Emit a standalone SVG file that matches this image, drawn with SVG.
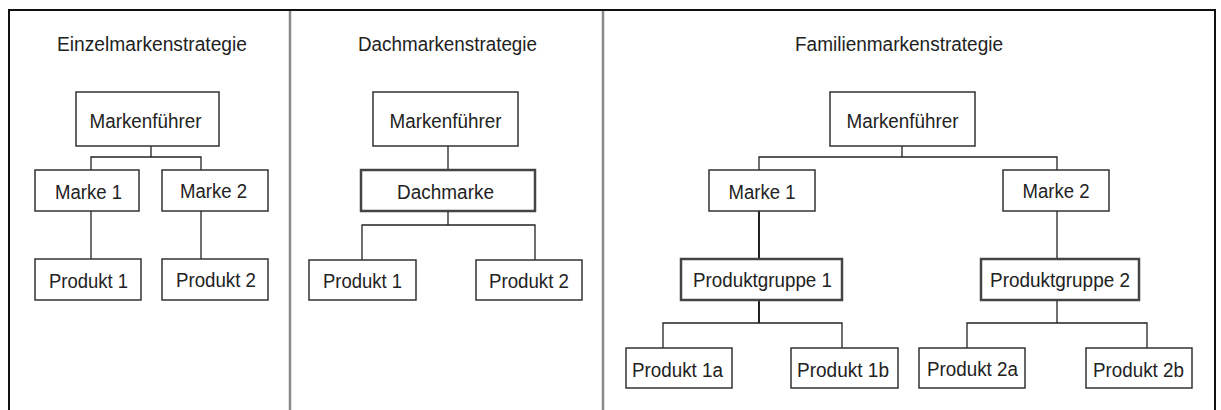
<svg xmlns="http://www.w3.org/2000/svg" width="1221" height="410" viewBox="0 0 1221 410">
<style>
.frame{fill:none;stroke:#111;stroke-width:2}
.div{stroke:#8a8a8a;stroke-width:2.5}
.box rect{fill:#fff;stroke:#333;stroke-width:1.5}
.box.strong rect{stroke:#444;stroke-width:2.5}
.box text,.title{font-family:"Liberation Sans",Arial,sans-serif;fill:#222;text-anchor:middle;font-size:20px}
#connectors path{fill:none;stroke:#222;stroke-width:1.3}
#connectors path.thick{stroke-width:2}
</style>
<rect width="1221" height="410" fill="#fff"/>
<g id="frame">
<path class="frame" d="M9,410 V10 H1215 V410"/>
<line class="div" x1="290" y1="11" x2="290" y2="410"/>
<line class="div" x1="603" y1="11" x2="603" y2="410"/>
</g>
<g id="titles">
<text class="title" x="152" y="51" textLength="190" lengthAdjust="spacingAndGlyphs">Einzelmarkenstrategie</text>
<text class="title" x="447.5" y="51" textLength="179" lengthAdjust="spacingAndGlyphs">Dachmarkenstrategie</text>
<text class="title" x="899" y="51" textLength="208" lengthAdjust="spacingAndGlyphs">Familienmarkenstrategie</text>
</g>
<g id="connectors">
<path d="M151,146 V157 M91,170 V157 H201 V170"/>
<path d="M91,211 V259 M201,211 V259"/>
<path d="M448,146 V170"/>
<path d="M448,211 V225 M362,260 V225 H535 V260"/>
<path d="M902,146 V157 M759,170 V157 H1057 V170"/>
<path class="thick" d="M759,211 V259"/>
<path d="M1057,211 V259"/>
<path class="thick" d="M759,300 V323"/>
<path d="M663,348 V323 H842 V348"/>
<path d="M1057,300 V323 M967,348 V323 H1147 V348"/>
</g>
<g id="e-mf" class="box"><rect x="76" y="92" width="143" height="54"/><text x="145.5" y="128" textLength="112" lengthAdjust="spacingAndGlyphs">Markenführer</text></g>
<g id="e-m1" class="box"><rect x="35" y="170" width="104" height="41"/><text x="88.5" y="199" textLength="67" lengthAdjust="spacingAndGlyphs">Marke 1</text></g>
<g id="e-m2" class="box"><rect x="162" y="170" width="106" height="41"/><text x="213.5" y="198" textLength="67" lengthAdjust="spacingAndGlyphs">Marke 2</text></g>
<g id="e-p1" class="box"><rect x="35" y="259" width="106" height="41"/><text x="88.5" y="288" textLength="79" lengthAdjust="spacingAndGlyphs">Produkt 1</text></g>
<g id="e-p2" class="box"><rect x="162" y="259" width="106" height="41"/><text x="216" y="287" textLength="80" lengthAdjust="spacingAndGlyphs">Produkt 2</text></g>

<g id="d-mf" class="box"><rect x="373" y="92" width="145" height="54"/><text x="445.5" y="128" textLength="112" lengthAdjust="spacingAndGlyphs">Markenführer</text></g>
<g id="d-dm" class="box strong"><rect x="361" y="170" width="174" height="41"/><text x="445.5" y="199" textLength="97" lengthAdjust="spacingAndGlyphs">Dachmarke</text></g>
<g id="d-p1" class="box"><rect x="309" y="260" width="107" height="40"/><text x="362.5" y="288" textLength="79" lengthAdjust="spacingAndGlyphs">Produkt 1</text></g>
<g id="d-p2" class="box"><rect x="476" y="260" width="106" height="40"/><text x="529" y="288" textLength="80" lengthAdjust="spacingAndGlyphs">Produkt 2</text></g>

<g id="f-mf" class="box"><rect x="830" y="92" width="145" height="54"/><text x="902.5" y="128" textLength="112" lengthAdjust="spacingAndGlyphs">Markenführer</text></g>
<g id="f-m1" class="box"><rect x="709" y="170" width="106" height="41"/><text x="762" y="199" textLength="67" lengthAdjust="spacingAndGlyphs">Marke 1</text></g>
<g id="f-m2" class="box"><rect x="1003" y="170" width="106" height="41"/><text x="1056" y="198" textLength="67" lengthAdjust="spacingAndGlyphs">Marke 2</text></g>
<g id="f-pg1" class="box strong"><rect x="681" y="259" width="161" height="41"/><text x="762.5" y="287" textLength="139" lengthAdjust="spacingAndGlyphs">Produktgruppe 1</text></g>
<g id="f-pg2" class="box strong"><rect x="981" y="259" width="158" height="41"/><text x="1060" y="287" textLength="140" lengthAdjust="spacingAndGlyphs">Produktgruppe 2</text></g>
<g id="f-p1a" class="box"><rect x="626" y="348" width="106" height="40"/><text x="677.5" y="377" textLength="91" lengthAdjust="spacingAndGlyphs">Produkt 1a</text></g>
<g id="f-p1b" class="box"><rect x="791" y="348" width="107" height="40"/><text x="843" y="377" textLength="92" lengthAdjust="spacingAndGlyphs">Produkt 1b</text></g>
<g id="f-p2a" class="box"><rect x="919" y="348" width="106" height="40"/><text x="972.5" y="376" textLength="91" lengthAdjust="spacingAndGlyphs">Produkt 2a</text></g>
<g id="f-p2b" class="box"><rect x="1086" y="348" width="106" height="40"/><text x="1138.5" y="377" textLength="91" lengthAdjust="spacingAndGlyphs">Produkt 2b</text></g>
</svg>
